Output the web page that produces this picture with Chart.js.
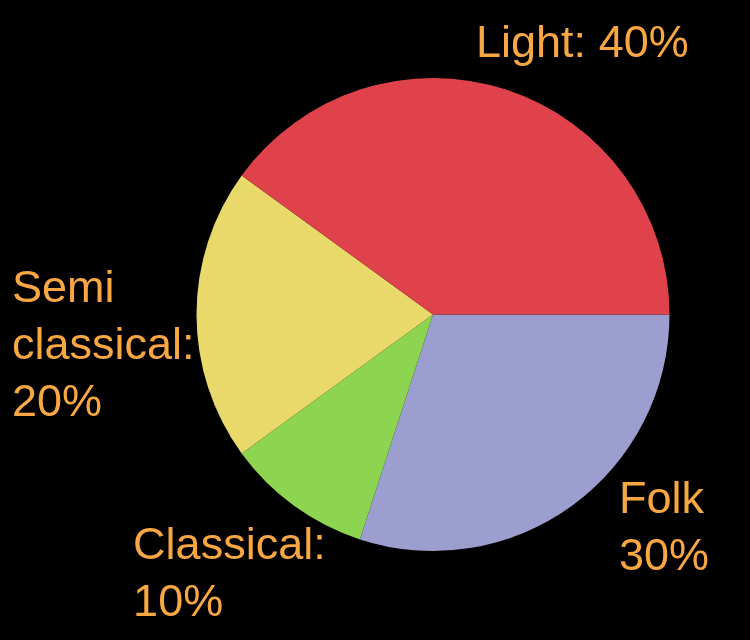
<!DOCTYPE html>
<html>
<head>
<meta charset="utf-8">
<script src="https://cdn.jsdelivr.net/npm/chart.js@4"></script>
<style>
  html, body { margin: 0; padding: 0; background: #000; }
  #wrap { width: 750px; height: 640px; }
</style>
</head>
<body>
<div id="wrap"><canvas id="c" width="750" height="640"></canvas></div>
<script>
// Data (clockwise from 3 o'clock)
const categories = ['Folk', 'Classical', 'Semi classical', 'Light'];
const shares = [30, 10, 20, 40];
const sliceColors = ['#9D9ED0', '#8DD451', '#E8D96A', '#E0424C'];
// Label text lines for each category
const labelLines = [
  ['Folk', '30%'],
  ['Classical:', '10%'],
  ['Semi', 'classical:', '20%'],
  ['Light: 40%']
];

// Label placement: offsets from pie centre in units of the pie radius (left x, first baseline y)
const labelPlacement = [
  { dx: 0.786, dy: 0.841 },
  { dx: -1.268, dy: 1.034 },
  { dx: -1.780, dy: -0.053 },
  { dx: 0.182, dy: -1.089 }
];

const labelPlugin = {
  id: 'sliceLabels',
  afterDraw(chart) {
    const ctx = chart.ctx;
    const meta = chart.getDatasetMeta(0);
    ctx.save();
    ctx.fillStyle = '#F9A743';
    ctx.font = '45px "Liberation Sans", Arial, sans-serif';
    ctx.textAlign = 'left';
    ctx.textBaseline = 'alphabetic';
    meta.data.forEach((arc, i) => {
      const r = arc.outerRadius;
      const x = arc.x + labelPlacement[i].dx * r;
      let y = arc.y + labelPlacement[i].dy * r;
      labelLines[i].forEach(line => {
        ctx.fillText(line, x, y);
        y += 57;
      });
    });
    ctx.restore();
  }
};

const bgPlugin = {
  id: 'bg',
  beforeDraw(chart) {
    const ctx = chart.ctx;
    ctx.save();
    ctx.fillStyle = '#000';
    ctx.fillRect(0, 0, chart.width, chart.height);
    ctx.restore();
  }
};

new Chart(document.getElementById('c'), {
  type: 'pie',
  data: {
    labels: categories,
    datasets: [{
      data: shares,
      backgroundColor: sliceColors,
      borderWidth: 0
    }]
  },
  options: {
    responsive: false,
    animation: false,
    rotation: 90,
    layout: { padding: { left: 196.5, right: 80.5, top: 78, bottom: 89 } },
    plugins: {
      legend: { display: false },
      tooltip: { enabled: false }
    }
  },
  plugins: [bgPlugin, labelPlugin]
});
</script>
</body>
</html>
